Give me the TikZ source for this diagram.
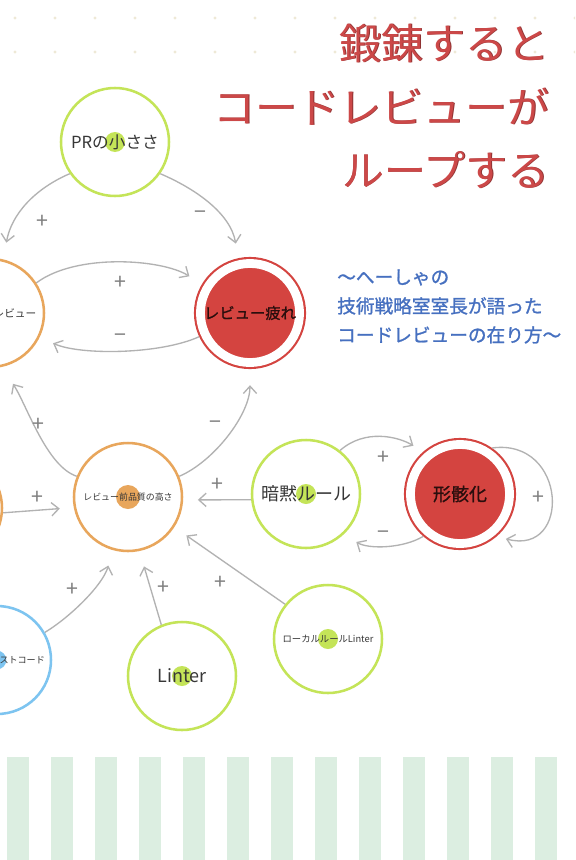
\documentclass[tikz,border=0pt]{standalone}
\usepackage{fontspec}
\setmainfont{Noto Sans CJK JP}
\newfontfamily\heavyjp{Noto Sans CJK JP}[FakeBold=1.2]
\usepackage{xcolor}
\usepackage{tikz}
\usetikzlibrary{arrows.meta}

\definecolor{leafgreen}{RGB}{196,228,88}
\definecolor{peach}{RGB}{232,166,92}
\definecolor{skyblue}{RGB}{125,196,240}
\definecolor{tired}{RGB}{212,68,64}
\definecolor{titlered}{RGB}{204,72,72}
\definecolor{subblue}{RGB}{70,112,192}
\definecolor{ink}{RGB}{55,55,55}
\definecolor{mint}{RGB}{220,238,225}
\definecolor{sand}{RGB}{238,233,214}

\begin{document}
\begin{tikzpicture}[
  x=0.75pt,y=-0.75pt,
  ring/.style 2 args={circle, draw=#1, line width=1.9pt, minimum size=81pt, inner sep=0pt, text=ink,
    path picture={\fill[#1] (path picture bounding box.center) circle (#2);}},
  core/.style={circle, fill=tired, draw=tired, line width=1.6pt, double=white, double distance=6.6pt,
    minimum size=74.3pt, inner sep=0pt, outer sep=5pt, text=black!80!tired},
  flow/.style={draw=black!30, line width=1pt, -{Straight Barb[length=5.5pt,width=10pt]}},
  sign/.style={text=black!50, font=\fontsize{16pt}{16pt}\selectfont, inner sep=0pt},
  title/.style={anchor=base east, text=titlered, font=\fontsize{31.5pt}{32pt}\selectfont, inner sep=0pt},
  titleshade/.style={title, text=titlered!70!black, xshift=0.5pt, yshift=-0.6pt},
  sub/.style={anchor=base west, text=subblue, font=\heavyjp\fontsize{14pt}{15pt}\selectfont, inner sep=0pt}
]
\useasboundingbox (0,0) rectangle (575,860);
\fill[white] (0,0) rectangle (575,860);
\clip (0,0) rectangle (575,860);

% paper
\foreach \y in {18,52}
  \foreach \x in {15,55,...,575}
    \fill[sand] (\x,\y) circle (1.3pt);
\foreach \x in {7,51,...,535}
  \fill[mint] (\x,757) rectangle +(22,103);

\node[titleshade] (t1s) at (550,59) {鍛錬すると};
\node[titleshade] (t2s) at (550,123) {コードレビューが};
\node[titleshade] (t3s) at (550,186) {ループする};
\node[title] (t1) at (550,59) {鍛錬すると};
\node[title] (t2) at (550,123) {コードレビューが};
\node[title] (t3) at (550,186) {ループする};
\node[sub] (u1) at (337,284) {〜へーしゃの};
\node[sub] (u2) at (337,313) {技術戦略室室長が語った};
\node[sub] (u3) at (337,342) {コードレビューの在り方〜};

\node[ring={leafgreen}{7.5pt}, font=\fontsize{12.5pt}{13pt}\selectfont] (pr) at (115,142) {PRの小ささ};
\node[ring={peach}{7.5pt}, font=\fontsize{8pt}{9pt}\selectfont] (self) at (-10,313) {\hspace*{13.5pt}セルフレビュー};
\node[core, font=\heavyjp\fontsize{11.5pt}{12pt}\selectfont] (fat) at (250,313) {レビュー疲れ};
\node[ring={peach}{9pt}, font=\fontsize{6.7pt}{7pt}\selectfont] (cen) at (128,497) {レビュー前品質の高さ};
\node[ring={peach}{7.5pt}] (left) at (-52,508) {};
\node[ring={leafgreen}{7.5pt}, font=\fontsize{13.5pt}{14pt}\selectfont] (imp) at (306,494) {暗黙ルール};
\node[core, font=\heavyjp\fontsize{13.5pt}{14pt}\selectfont] (form) at (460,494) {形骸化};
\node[ring={skyblue}{7pt}, font=\fontsize{6.8pt}{7pt}\selectfont] (test) at (-3,660) {\hspace*{31pt}テストコード};
\node[ring={leafgreen}{7.5pt}, font=\fontsize{13.5pt}{14pt}\selectfont] (lin) at (182,676) {Linter};
\node[ring={leafgreen}{7.5pt}, font=\fontsize{7pt}{7pt}\selectfont] (loc) at (328,639) {ローカルルールLinter};

\draw[flow, shorten >=12.75pt] (pr.215) .. controls +(-35,15) and +(8,-45) .. (self.76);
\draw[flow, shorten >=11pt] (pr.-35) .. controls +(35,15) and +(-8,-45) .. (fat.102);
\draw[flow, shorten >=11pt] (self.33) .. controls +(40,-30) and +(-40,-25) .. (fat.149);
\draw[flow, shorten >=11pt] (fat.205) .. controls +(-40,18) and +(40,18) .. (self.334);
\draw[flow, shorten >=15pt] (cen.158) .. controls +(-30,-10) and +(25,40) .. (self.283);
\draw[flow, shorten >=12pt] (cen.22) .. controls +(35,-15) and +(0,45) .. (fat.270);
\draw[flow, shorten >=10.5pt] (left.355) -- (cen.191);
\draw[flow, shorten >=11pt] (imp.186) -- (cen.357);
\draw[flow, shorten >=11pt] (loc.141) -- (cen.327);
\draw[flow, shorten >=12pt] (lin.112) -- (cen.282);
\draw[flow, shorten >=12pt] (test.30) .. controls +(25,-15) and +(-10,35) .. (cen.254);
\draw[flow, shorten >=8.5pt] (imp.52) .. controls +(25,-22) and +(-25,-15) .. (form.131);
\draw[flow, shorten >=11pt] (form.229) .. controls +(-20,12) and +(25,15) .. (imp.313);
\draw[flow, shorten >=7pt] (form.55) .. controls +(75,-10) and +(75,20) .. (form.311);

\foreach \x/\y/\s [count=\i] in {42/222/+, 200/215/−, 120/283/+, 120/338/−, 38/425/+, 215/425/−,
    37/498/+, 217/485/+, 220/583/+, 163/588/+, 72/590/+, 383/458/+, 383/535/−, 538/498/+}
  \node[sign] (s\i) at (\x,\y) {\s};
\end{tikzpicture}
\end{document}
